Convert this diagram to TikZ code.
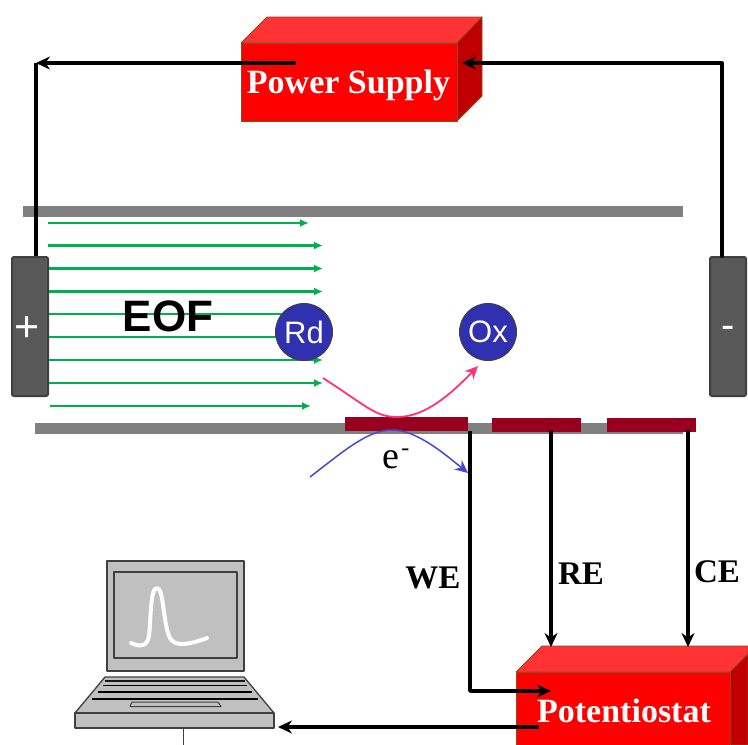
\documentclass[tikz,border=0pt]{standalone}
\usepackage{fontspec}
\setmainfont{Liberation Serif}
\newfontfamily\armfont{Liberation Sans}
\usetikzlibrary{arrows.meta,positioning,calc}
\definecolor{boxfront}{HTML}{FF0000}
\definecolor{boxtop}{HTML}{FF3333}
\definecolor{boxside}{HTML}{C00000}
\definecolor{boxedge}{HTML}{8A4A20}
\definecolor{wall}{HTML}{808080}
\definecolor{elec}{HTML}{990020}
\definecolor{plate}{HTML}{595959}
\definecolor{plateedge}{HTML}{404040}
\definecolor{flow}{HTML}{00B050}
\definecolor{ion}{HTML}{3030B0}
\definecolor{pinkc}{HTML}{FF3377}
\definecolor{bluec}{HTML}{4848D8}
\definecolor{pcgray}{HTML}{C0C0C0}
\definecolor{pcedge}{HTML}{404040}
\begin{document}
\begin{tikzpicture}[x=1pt,y=-1pt,
 face/.style={draw=boxedge,line width=0.8pt,line join=round},
 boxlabel/.style={font=\bfseries\fontsize{34}{34}\selectfont,text=white,anchor=base},
 wire/.style={line width=3.8pt,line join=round,-{Stealth[length=14pt,width=13pt]}},
 plainwire/.style={line width=3.8pt,line join=round},
 wallbar/.style={fill=wall,draw=none,minimum height=11.5pt,inner sep=0pt,outer sep=0pt},
 pad/.style={fill=elec,draw=none,minimum height=14pt,inner sep=0pt,outer sep=0pt},
 pole/.style={rectangle,rounded corners=2pt,fill=plate,draw=plateedge,line width=2pt,minimum width=36pt,minimum height=139pt,inner sep=0pt,outer sep=1pt},
 species/.style={circle,fill=ion,draw=black!75,line width=1pt,minimum size=57pt,inner sep=0pt,text=white,font=\armfont\fontsize{31}{31}\selectfont},
 tag/.style={font=\bfseries\fontsize{33}{33}\selectfont},
 stream/.style={flow,line width=2.4pt,-{Latex[length=9pt,width=8pt]}},
 pcpart/.style={fill=pcgray,draw=pcedge,line width=1.3pt,line join=round}]
\useasboundingbox (0,0) rectangle (748,745);

\node[wallbar,minimum width=660pt] (topwall) at (353,211.5) {};
\node[wallbar,minimum width=648pt] (botwall) at (359,428.5) {};
\node[pad,minimum width=123pt] (wepad) at (406.5,424) {};
\node[pad,minimum width=89pt] (repad) at (536.5,424.5) {};
\node[pad,minimum width=89pt] (cepad) at (651.5,424.5) {};

% flow lines
\foreach \yy/\xa/\xb in {223/48/309,245.5/48/323,268.5/49/323,291.5/49/323,314/49/323,337/49/323,360/49/323,383/49/323,406/50/311}{
  \draw[stream] (\xa,\yy) -- (\xb,\yy);}

\node[pole] (anode) at (30,326.5) {};
\node[pole] (cathode) at (728,326.5) {};
\node[text=white,font=\armfont\fontsize{43}{43}\selectfont] (plus) at (27.5,329) {+};
\node[text=white,font=\armfont\fontsize{40}{40}\selectfont] (minus) at (728,332) {-};
\node[font=\armfont\bfseries\fontsize{44}{44}\selectfont] (eof) at (168,316) {EOF};
\node[species] (rd) at (304,332) {Rd};
\node[species] (ox) at (488,332) {Ox};

\coordinate (pinkstart) at (323,378);
\coordinate (pinkmid) at (397,417);
\coordinate (pinkend) at (478,366);
\coordinate (bluestart) at (310,477);
\coordinate (bluemid) at (392,430);
\coordinate (blueend) at (468,473);
\draw[pinkc,line width=1.8pt,-{Stealth[length=13pt,width=12pt]}] (pinkstart) .. controls (365,405) and (375,417) .. (pinkmid) .. controls (425,417) and (450,395) .. (pinkend);
\draw[bluec,line width=1.5pt,-{Stealth[length=13pt,width=12pt]}] (bluestart) .. controls (345,450) and (368,430) .. (bluemid) .. controls (415,430) and (440,450) .. (blueend);
\node[font=\fontsize{38}{38}\selectfont] (eminus) at (396,459) {e\kern2pt\raisebox{13pt}{\fontsize{24}{24}\selectfont -}};

% power supply
\filldraw[face,fill=boxtop] (241,43) -- (267,17) -- (482,17) -- (457,43) -- cycle;
\filldraw[face,fill=boxside] (457,43) -- (482,17) -- (482,96) -- (457,121) -- cycle;
\node[face,fill=boxfront,minimum width=216pt,minimum height=78pt,inner sep=0pt,outer sep=0pt] (power) at (349,82) {};
\node[boxlabel] (powerlabel) at (348.5,93) {Power Supply};

\coordinate (powerleft) at (296,63);
\coordinate (leftcorner) at (36,63);
\coordinate (rightcorner) at (722,63);
\coordinate (powerright) at (462,63);
\draw[wire] (powerleft) -- (leftcorner);
\draw[plainwire] (leftcorner) -- (leftcorner |- anode.north);
\draw[wire] (rightcorner) -- (powerright);
\draw[plainwire,line cap=round] (rightcorner) -- (rightcorner |- cathode.north);

% potentiostat
\filldraw[face,fill=boxtop] (516,672) -- (542,646) -- (748,646) -- (748,654) -- (730,672) -- cycle;
\filldraw[face,fill=boxside] (730,672) -- (748,654) -- (748,745) -- (730,745) -- cycle;
\node[face,fill=boxfront,minimum width=214pt,minimum height=73pt,inner sep=0pt,outer sep=0pt] (pot) at (623,708.5) {};
\node[boxlabel] (potlabel) at (624,722) {Potentiostat};

\coordinate (wecorner) at (470,691);
\coordinate (weend) at (551,691);
\coordinate (retop) at (551,430);
\coordinate (reend) at (551,647);
\coordinate (cetop) at (688,430);
\coordinate (ceend) at (688,647);
\draw[wire] (wepad.south -| wecorner) -- (wecorner) -- (weend);
\draw[wire] (retop) -- (reend);
\draw[wire] (cetop) -- (ceend);
\node[tag] (we) at (433,578) {WE};
\node[tag] (re) at (581,574) {RE};
\node[tag] (ce) at (717,572) {CE};

% computer
\filldraw[pcpart] (107,561) rectangle (244,671);
\filldraw[pcpart] (114,572) rectangle (237,658);
\draw[white,line width=4pt,line cap=round,line join=round] (131,643) .. controls (140,647) and (147,647) .. (149,636) .. controls (151,620) and (150,588) .. (157,588) .. controls (164,588) and (163,625) .. (170,638) .. controls (175,647) and (188,645) .. (207,638);
\filldraw[pcpart] (105,677) -- (244,677) -- (274,713) -- (75,713) -- cycle;
\filldraw[pcpart] (75,713) rectangle (274,728);
\draw[pcedge!40!black,line width=1.2pt] (105,681) -- (245,681);
\draw[black,line width=1.2pt] (103,685.5) -- (247,685.5);
\draw[black,line width=1.2pt] (98,692) -- (252,692);
\draw[black,line width=1.2pt] (92,699) -- (258,699);
\filldraw[pcpart,line width=1pt] (132,702) -- (218,702) -- (221,706.5) -- (130,706.5) -- cycle;
\coordinate (standfoot) at (183,745);
\draw[pcedge,line width=1pt] (183,728) -- (standfoot);

\coordinate (potout) at (539,727);
\coordinate (pcin) at (278,727);
\draw[wire] (potout) -- (pcin);
\end{tikzpicture}
\end{document}
